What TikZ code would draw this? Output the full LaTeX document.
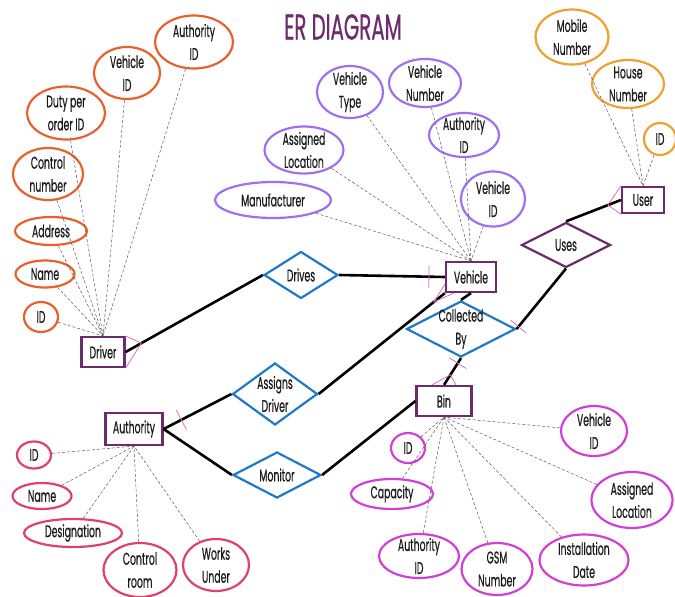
\documentclass[tikz,border=0pt]{standalone}
\usepackage{fontspec}
\setmainfont{Poppins}[FakeStretch=0.55, FakeBold=0.5]
\usepackage{tikz}
\usepackage{xcolor}
\usetikzlibrary{shapes.geometric, calc}

\definecolor{drvcol}{HTML}{E8602C}
\definecolor{vehcol}{HTML}{A070F0}
\definecolor{usrcol}{HTML}{F0A030}
\definecolor{autcol}{HTML}{E0406A}
\definecolor{bincol}{HTML}{D040D8}
\definecolor{entcol}{HTML}{6B2C6B}
\definecolor{relcol}{HTML}{1E7AC8}
\definecolor{cardcol}{HTML}{E070B0}
\definecolor{txtcol}{HTML}{1A1A1A}

\begin{document}
\begin{tikzpicture}[
            x=1pt, y=-1pt,
            every node/.style={font=\fontsize{17}{23}\selectfont, text=txtcol, align=center},
            attr/.style={ellipse, draw, line width=2.2pt, inner xsep=0pt, inner ysep=-5pt},
            drvattr/.style={attr, draw=drvcol},
            vehattr/.style={attr, draw=vehcol},
            usrattr/.style={attr, draw=usrcol},
            autattr/.style={attr, draw=autcol},
            binattr/.style={attr, draw=bincol},
            entity/.style={rectangle, draw=entcol, line width=2.2pt, inner sep=0pt},
            relation/.style={diamond, draw=relcol, line width=2.2pt, inner sep=0pt},
            attrline/.style={draw=black!65, line width=0.5pt, dash pattern=on 3pt off 2pt},
            relline/.style={draw=black, line width=2.6pt},
            cardline/.style={draw=cardcol, line width=0.8pt},
        ]
            \useasboundingbox (0,0) rectangle (675,597);
            \node[font=\fontsize{36}{38}\selectfont, text=entcol] (title) at (343,27) {ER DIAGRAM};

            % entities
            \node[entity, minimum width=43, minimum height=30] (driver) at (103,352) {Driver};
            \node[entity, minimum width=50, minimum height=30] (vehicle) at (471,277) {Vehicle};
            \node[entity, minimum width=42, minimum height=26] (user) at (643,200) {User};
            \node[entity, minimum width=57, minimum height=32] (authority) at (134,429) {Authority};
            \node[entity, minimum width=55, minimum height=30] (bin) at (444,401) {Bin};

            % relationships
            \node[relation, minimum width=74, minimum height=47, label=center:Drives] (drives) at (301,275) {};
            \node[relation, minimum width=109, minimum height=56, label=center:{Collected\\By}] (collected) at (461,329) {};
            \node[relation, draw=entcol, minimum width=89, minimum height=45, label=center:Uses] (uses) at (566,245) {};
            \node[relation, minimum width=85, minimum height=62, label=center:{Assigns\\Driver}] (assigns) at (275,394) {};
            \node[relation, minimum width=88, minimum height=46, label=center:Monitor] (monitor) at (277,475) {};

            % driver attributes
            \node[drvattr, minimum width=78, minimum height=53] (d-authid) at (194,42) {Authority\\ID};
            \node[drvattr, minimum width=66, minimum height=52] (d-vehid) at (127,73) {Vehicle\\ID};
            \node[drvattr, minimum width=78, minimum height=53] (d-duty) at (66,113) {Duty per\\order ID};
            \node[drvattr, minimum width=70, minimum height=52] (d-control) at (48,174) {Control\\number};
            \node[drvattr, minimum width=72, minimum height=28] (d-address) at (51,231) {Address};
            \node[drvattr, minimum width=59, minimum height=27] (d-name) at (45,274) {Name};
            \node[drvattr, minimum width=34, minimum height=30] (d-id) at (41,317) {ID};

            % vehicle attributes
            \node[vehattr, minimum width=66, minimum height=52] (v-type) at (350,92) {Vehicle\\Type};
            \node[vehattr, minimum width=72, minimum height=48] (v-number) at (425,83) {Vehicle\\Number};
            \node[vehattr, minimum width=70, minimum height=44] (v-authid) at (464,135) {Authority\\ID};
            \node[vehattr, minimum width=79, minimum height=47] (v-location) at (304,150) {Assigned\\Location};
            \node[vehattr, minimum width=116, minimum height=36] (v-maker) at (273,200) {Manufacturer};
            \node[vehattr, minimum width=64, minimum height=55] (v-id) at (493,199) {Vehicle\\ID};

            % user attributes
            \node[usrattr, minimum width=73, minimum height=55] (u-mobile) at (572,37) {Mobile\\Number};
            \node[usrattr, minimum width=72, minimum height=48] (u-house) at (628,84) {House\\Number};
            \node[usrattr, minimum width=32, minimum height=32] (u-id) at (660,139) {ID};

            % authority attributes
            \node[autattr, minimum width=34, minimum height=27] (a-id) at (34,455) {ID};
            \node[autattr, minimum width=59, minimum height=26] (a-name) at (42,496) {Name};
            \node[autattr, minimum width=98, minimum height=28] (a-desig) at (73,533) {Designation};
            \node[autattr, minimum width=73, minimum height=54] (a-control) at (140,570) {Control\\room};
            \node[autattr, minimum width=66, minimum height=52] (a-works) at (216,565) {Works\\Under};

            % bin attributes
            \node[binattr, minimum width=34, minimum height=30] (b-id) at (408,448) {ID};
            \node[binattr, minimum width=82, minimum height=30] (b-capacity) at (392,494) {Capacity};
            \node[binattr, minimum width=80, minimum height=44] (b-authid) at (419,556) {Authority\\ID};
            \node[binattr, minimum width=71, minimum height=52] (b-gsm) at (497,569) {GSM\\Number};
            \node[binattr, minimum width=89, minimum height=51] (b-date) at (584,560) {Installation\\Date};
            \node[binattr, minimum width=81, minimum height=56] (b-location) at (632,500) {Assigned\\Location};
            \node[binattr, minimum width=66, minimum height=50] (b-vehid) at (594,431) {Vehicle\\ID};

            % attribute links
            \foreach \a in {d-authid, d-vehid, d-duty, d-control, d-address, d-name, d-id}
                \draw[attrline] (\a) -- (driver.north);
            \foreach \a in {v-type, v-number, v-authid, v-location, v-maker, v-id}
                \draw[attrline] (\a) -- (vehicle.north);
            \foreach \a in {u-mobile, u-house, u-id}
                \draw[attrline] (\a) -- (user.north);
            \foreach \a in {a-id, a-name, a-desig, a-control, a-works}
                \draw[attrline] (\a) -- (authority.south);
            \foreach \a in {b-id, b-capacity, b-authid, b-gsm, b-date, b-location, b-vehid}
                \draw[attrline] (\a) -- (bin.south);

            % relationship links
            \draw[relline] (driver.east) -- (drives.west);
            \draw[relline] (drives.east) -- (vehicle.west);
            \draw[relline] (authority.east) -- (assigns.west);
            \draw[relline] (assigns.east) -- (vehicle.south west);
            \draw[relline] (authority.east) -- (monitor.west);
            \draw[relline] (monitor.east) -- (bin.west);
            \draw[relline] (vehicle.south) -- (collected.north);
            \draw[relline] (collected.south) -- (bin.north);
            \draw[relline] (uses.north) -- (user.west);
            \draw[relline] (uses.south) -- (collected.east);

            % cardinality marks
            \coordinate (c1) at ($(driver.east)!18pt!(drives.west)$);
            \draw[cardline] (driver.north east) -- (c1) -- (driver.south east);
            \coordinate (c2) at ($(user.west)!14pt!(uses.north)$);
            \draw[cardline] (user.north west) -- (c2) -- (user.south west);
            \coordinate (c3) at ($(vehicle.south west)!14pt!(assigns.east)$);
            \draw[cardline] ($(vehicle.south west)+(0,-9)$) -- (c3) -- ($(vehicle.south west)+(9,0)$);
            \coordinate (c4) at ($(bin.north)!12pt!(collected.south)$);
            \draw[cardline] ($(bin.north)+(-12,0)$) -- (c4) -- ($(bin.north)+(12,0)$);
            \coordinate (t1) at ($(vehicle.west)!16pt!(drives.east)$);
            \draw[cardline] ($(t1)!11pt!90:(vehicle.west)$) -- ($(t1)!11pt!-90:(vehicle.west)$);
            \coordinate (t2) at ($(collected.south)!6pt!(bin.north)$);
            \draw[cardline] ($(t2)!10pt!90:(bin.north)$) -- ($(t2)!10pt!-90:(bin.north)$);
            \coordinate (t3) at ($(collected.east)!3pt!(uses.south)$);
            \draw[cardline] ($(t3)!10pt!90:(uses.south)$) -- ($(t3)!10pt!-90:(uses.south)$);
            \coordinate (t4) at ($(authority.east)!20pt!(assigns.west)$);
            \draw[cardline] ($(t4)!11pt!90:(assigns.west)$) -- ($(t4)!11pt!-90:(assigns.west)$);
        \end{tikzpicture}
\end{document}
